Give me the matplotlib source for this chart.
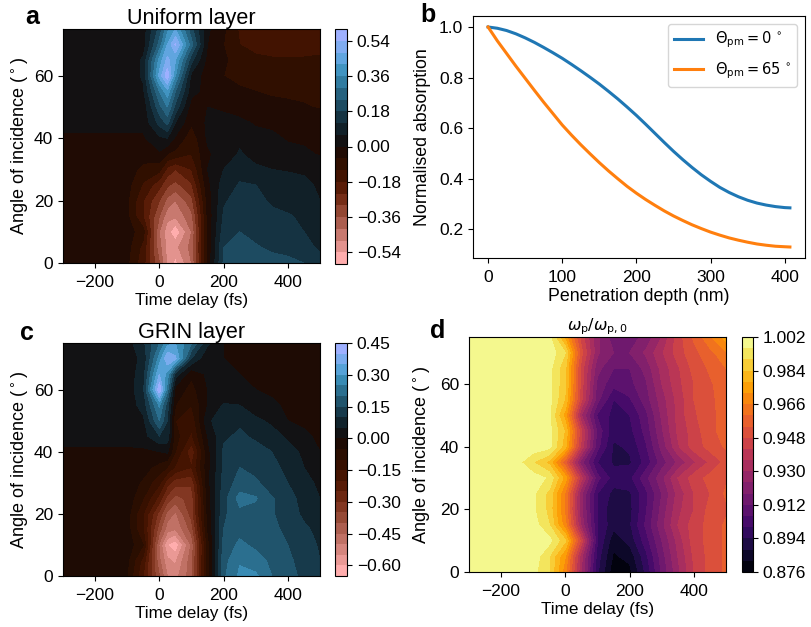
import numpy as np
import matplotlib
matplotlib.use("Agg")
import matplotlib.pyplot as plt

plt.rcParams['font.family'] = ['Liberation Sans', 'DejaVu Sans']
plt.rcParams['font.size'] = 12.5

#-- data --#
times_ac = [-300, -150, -100, -50, 0, 25, 50, 100, 150, 200, 250, 300, 350, 400, 450, 500]
times_d  = [-300, -150, -100, -50, 0, 50, 100, 150, 200, 250, 300, 350, 400, 450, 500]
angles   = [0, 5, 10, 15, 20, 25, 30, 35, 40, 45, 50, 55, 60, 65, 70, 75]

uniform_layer = [
    [-.03, -.03, -.05, -.16, -.36, -.50, -.56, -.42, -.05, .19, .21, .21, .20, .195, .18, .14],
    [-.03, -.03, -.04, -.14, -.40, -.50, -.50, -.40, -.05, .18, .20, .185, .17, .16, .14, .11],
    [-.03, -.03, -.03, -.10, -.42, -.52, -.59, -.42, -.05, .15, .18, .165, .15, .14, .12, .10],
    [-.03, -.03, -.05, -.18, -.36, -.46, -.47, -.38, -.05, .13, .16, .15, .135, .125, .11, .09],
    [-.03, -.03, -.05, -.18, -.30, -.38, -.42, -.32, -.04, .11, .15, .14, .11, .10, .09, .06],
    [-.03, -.03, -.04, -.13, -.22, -.29, -.32, -.25, -.02, .09, .125, .12, .09, .085, .075, .05],
    [-.03, -.03, -.03, -.08, -.10, -.20, -.24, -.18, .00, .06, .10, .07, .06, .055, .05, .03],
    [-.03, -.03, -.03, -.03, -.01, -.06, -.08, -.12, -.01, .03, .065, .04, .02, .015, .01, -.005],
    [-.01, -.01, -.01, -.01, .05, .06, -.01, -.10, .01, .02, .05, .015, .01, -.005, -.01, -.015],
    [.02, .02, .02, .02, .14, .20, .06, -.05, .01, .02, .01, -.005, -.01, -.02, -.03, -.03],
    [.02, .02, .02, .02, .22, .30, .16, -.03, .00, -.01, -.02, -.03, -.04, -.05, -.055, -.065],
    [.02, .02, .02, .05, .30, .40, .24, .02, -.02, -.03, -.05, -.06, -.07, -.07, -.075, -.08],
    [.02, .02, .02, .07, .44, .58, .36, .04, -.03, -.06, -.08, -.09, -.09, -.09, -.10, -.10],
    [.02, .02, .02, .07, .38, .50, .42, .14, -.02, -.05, -.09, -.11, -.115, -.115, -.115, -.115],
    [.02, .02, .02, .03, .26, .42, .55, .26, .00, -.06, -.12, -.135, -.14, -.14, -.14, -.13],
    [.02, .02, .02, .03, .20, .34, .42, .20, .01, -.05, -.13, -.14, -.14, -.14, -.14, -.13],
]

grin_layer = [
    [-.02, -.02, -.05, -.20, -.40, -.50, -.52, -.42, -.08, .19, .26, .26, .20, .165, .14, .11],
    [-.02, -.02, -.04, -.17, -.44, -.54, -.56, -.42, -.08, .18, .245, .22, .19, .16, .13, .10],
    [-.02, -.02, -.02, -.10, -.46, -.60, -.64, -.44, -.08, .17, .21, .19, .18, .15, .12, .095],
    [-.02, -.02, -.03, -.15, -.38, -.48, -.50, -.38, -.05, .15, .185, .18, .17, .13, .11, .085],
    [-.02, -.02, -.03, -.15, -.32, -.42, -.46, -.33, -.04, .14, .185, .18, .155, .125, .09, .07],
    [-.02, -.02, -.02, -.10, -.22, -.32, -.37, -.33, -.03, .13, .22, .205, .155, .12, .08, .05],
    [-.02, -.02, -.02, -.06, -.14, -.23, -.28, -.29, -.02, .12, .17, .16, .12, .10, .065, .04],
    [-.02, -.02, -.02, -.03, -.07, -.10, -.16, -.20, -.02, .11, .15, .13, .11, .09, .05, .03],
    [-.01, -.01, -.01, -.01, .00, .01, -.10, -.24, -.02, .11, .145, .12, .10, .07, .04, .00],
    [.02, .02, .02, .03, .10, .08, -.08, -.16, .00, .09, .11, .09, .07, .04, .01, -.01],
    [.02, .02, .02, .04, .20, .10, -.10, -.14, .04, .08, .09, .06, .04, .00, -.01, -.02],
    [.02, .02, .02, .07, .26, .12, -.05, -.10, .00, .055, .05, .02, .01, -.01, -.015, -.02],
    [.02, .02, .02, .09, .44, .22, -.02, -.07, .00, .01, .01, .00, -.01, -.02, -.02, -.03],
    [.02, .02, .02, .08, .35, .28, .08, -.04, .01, .005, .00, -.01, -.02, -.03, -.03, -.04],
    [.02, .02, .03, .06, .27, .40, .36, .10, .01, .00, -.01, -.03, -.03, -.04, -.04, -.05],
    [.02, .02, .03, .09, .20, .28, .30, .20, .06, .00, -.02, -.03, -.04, -.04, -.045, -.05],
]

plasma_ratio = [
    [1.0, 1.0, .998, .99, .968, .93, .895, .878, .88, .895, .913, .928, .942, .95, .955],
    [1.0, 1.0, 1.0, .99, .972, .932, .897, .881, .884, .898, .915, .93, .943, .95, .955],
    [1.0, 1.0, 1.0, .998, .985, .945, .90, .884, .89, .903, .918, .932, .945, .95, .955],
    [1.0, 1.0, .999, .99, .968, .928, .90, .89, .893, .907, .922, .936, .945, .95, .955],
    [1.0, 1.0, .997, .988, .964, .925, .90, .889, .892, .905, .92, .934, .942, .95, .953],
    [1.0, 1.0, .997, .988, .965, .925, .90, .892, .893, .904, .918, .932, .942, .948, .955],
    [1.0, 1.0, .999, .995, .975, .938, .908, .897, .898, .91, .922, .936, .945, .95, .953],
    [1.0, .998, .99, .982, .955, .92, .90, .893, .893, .902, .915, .925, .935, .943, .95],
    [1.0, 1.0, 1.0, .998, .98, .94, .908, .893, .895, .905, .92, .935, .945, .95, .955],
    [1.0, 1.0, 1.0, .998, .983, .943, .91, .896, .898, .908, .923, .937, .945, .952, .957],
    [1.0, 1.0, 1.0, .997, .975, .93, .905, .898, .90, .91, .925, .938, .947, .952, .957],
    [1.0, 1.0, 1.0, .998, .983, .943, .914, .90, .905, .915, .927, .938, .948, .952, .958],
    [1.0, 1.0, 1.0, .998, .985, .945, .916, .908, .91, .917, .93, .94, .948, .953, .958],
    [1.0, 1.0, 1.0, .998, .985, .945, .92, .912, .912, .92, .932, .941, .95, .955, .96],
    [1.0, 1.0, 1.0, 1.0, .99, .95, .925, .918, .918, .925, .935, .945, .952, .958, .965],
    [1.0, 1.0, 1.0, .998, .975, .945, .925, .915, .915, .92, .93, .945, .955, .965, .975],
]

depth = [0, 12.5, 25, 37.5, 50, 62.5, 75, 87.5, 100, 112.5, 125, 137.5, 150, 162.5, 175, 187.5,
         200, 212.5, 225, 237.5, 250, 262.5, 275, 287.5, 300, 312.5, 325, 337.5, 350, 362.5, 375, 387.5, 400, 407]
abs_0deg = [1.0, .995, .986, .973, .957, .939, .919, .898, .876, .852, .827, .801, .774, .745, .715, .683,
            .650, .615, .579, .543, .508, .475, .444, .415, .389, .365, .345, .328, .314, .303, .295, .289, .285, .284]
abs_65deg = [1.0, .945, .895, .845, .797, .749, .702, .657, .612, .572, .534, .498, .463, .430, .399, .369,
             .342, .317, .294, .272, .252, .234, .217, .202, .188, .176, .165, .156, .148, .141, .136, .132, .130, .129]

ticks_a = [-.54, -.36, -.18, 0, .18, .36, .54]
ticks_c = [-.60, -.45, -.30, -.15, 0, .15, .30, .45]
ticks_d = [.876, .894, .912, .930, .948, .966, .984, 1.002]

#-- helpers --#
W, H = 811, 627
fig = plt.figure(figsize=(W/100, H/100), dpi=100)

def box(x0, y0, x1, y1):
    return [x0/W, 1 - y1/H, (x1-x0)/W, (y1-y0)/H]

def contour_panel(rect, cbrect, t, z, levels, cmap, ticks, fmt, norm=None):
    ax = fig.add_axes(box(*rect))
    cf = ax.contourf(t, angles, z, levels=levels, cmap=cmap, norm=norm)
    ax.set_xlim(-300, 500)
    ax.set_ylim(0, 75)
    ax.set_xticks([-200, 0, 200, 400])
    ax.set_yticks([0, 20, 40, 60])
    ax.tick_params(axis='x', pad=5.5)
    ax.set_xlabel("Time delay (fs)", fontsize=12.3, labelpad=2)
    ax.set_ylabel(r"Angle of incidence ($^\circ$)", fontsize=13, labelpad=2)
    cax = fig.add_axes(box(*cbrect))
    cb = fig.colorbar(cf, cax=cax)
    cb.set_ticks(ticks)
    cb.set_ticklabels([fmt.format(v).replace("-", "\u2212") for v in ticks])
    return ax

#-- a --#
norm_a = matplotlib.colors.TwoSlopeNorm(vmin=-0.57, vcenter=0, vmax=0.57)
ax_a = contour_panel((63, 29, 320, 263), (335, 29, 347, 264), times_ac, uniform_layer,
                     np.arange(-10, 11)*0.06, 'berlin_r', ticks_a, "{:.2f}", norm=norm_a)
ax_a.set_title("Uniform layer", fontsize=15.6, pad=3)

#-- c --#
norm_c = matplotlib.colors.TwoSlopeNorm(vmin=-0.625, vcenter=0, vmax=0.425)
ax_c = contour_panel((63, 343, 320, 576), (335, 343, 347, 576), times_ac, grin_layer,
                     np.arange(-13, 10)*0.05, 'berlin_r', ticks_c, "{:.2f}", norm=norm_c)
ax_c.set_title("GRIN layer", fontsize=15.6, pad=3)

#-- d --#
ax_d = contour_panel((469, 337, 726, 572), (742, 337, 753, 572), times_d, plasma_ratio,
                     .876 + np.arange(22)*0.006, 'inferno', ticks_d, "{:.3f}")
ax_d.set_title(r"$\omega_{\rm p}/\omega_{\rm p,0}$", fontsize=11.5, pad=4)
ax_d.yaxis.labelpad = 5

#-- b --#
ax_b = fig.add_axes(box(473, 16, 805, 258))
ax_b.plot(depth, abs_0deg, lw=2.2, label=r"$\Theta_{\rm pm}=0\,^\circ$")
ax_b.plot(depth, abs_65deg, lw=2.2, label=r"$\Theta_{\rm pm}=65\,^\circ$")
ax_b.set_xticks([0, 100, 200, 300, 400])
ax_b.set_yticks([.2, .4, .6, .8, 1.0])
ax_b.tick_params(axis='x', pad=5.5)
ax_b.set_xlabel("Penetration depth (nm)", fontsize=12.8, labelpad=2)
ax_b.set_ylabel("Normalised absorption", fontsize=12.8, labelpad=6)
ax_b.legend(loc='upper right', fontsize=10.5, labelspacing=0.7, borderaxespad=0.55)

#-- panel letters --#
for s, x, y in [("a", 32, 17), ("b", 428, 15), ("c", 27, 333), ("d", 438, 331)]:
    fig.text(x/W, 1 - y/H, s, fontsize=18, fontweight='bold', ha='center', va='center')

fig.savefig("out.png", dpi=100)
